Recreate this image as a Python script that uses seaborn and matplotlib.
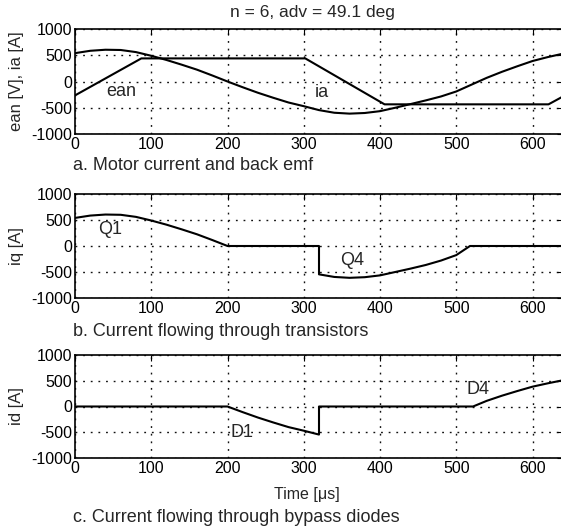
import matplotlib

matplotlib.use("Agg")
import matplotlib.pyplot as plt
import seaborn as sns

sns.set_theme(style="white")
plt.rcParams["font.family"] = ["Liberation Sans", "DejaVu Sans"]
plt.rcParams["axes.unicode_minus"] = False

# panel a: back emf (trapezoid) and phase current
ean_time = [0, 87, 302, 406, 621, 640]
ean_vals = [-265, 440, 440, -435, -435, -285]

ia_time = [0, 20, 40, 60, 80, 100, 120, 140, 160, 180, 200, 220, 240, 260, 280,
           300, 320, 340, 360, 380, 400, 420, 440, 460, 480, 500, 520, 540, 560,
           580, 600, 620, 640]
ia_vals = [540, 585, 605, 600, 560, 490, 410, 320, 225, 115, 0, -110, -215, -310,
           -400, -470, -545, -595, -612, -600, -565, -500, -430, -360, -285, -190,
           -60, 70, 185, 290, 390, 465, 530]

# panel b: transistor current
iq_time = [0, 20, 40, 60, 80, 100, 120, 140, 160, 180, 200, 320, 320, 340, 360,
           380, 400, 420, 440, 460, 480, 500, 518, 640]
iq_vals = [540, 585, 605, 600, 560, 490, 410, 320, 225, 115, 0, 0, -545, -595,
           -612, -600, -565, -500, -435, -365, -280, -175, 0, 0]

# panel c: diode current
id_time = [0, 200, 220, 240, 260, 280, 300, 320, 320, 522, 540, 560, 580, 600,
           620, 640]
id_vals = [0, 0, -110, -215, -310, -400, -470, -545, 0, 0, 110, 210, 300, 385,
           450, 510]

x_ticks = [0, 100, 200, 300, 400, 500, 600]
y_ticks = [-1000, -500, 0, 500, 1000]

W, H = 561, 531


def style_axis(ax, ylabel):
    ax.set_xlim(0, 640)
    ax.set_ylim(-1000, 1000)
    ax.set_xticks(x_ticks)
    ax.set_yticks(y_ticks)
    ax.grid(True, color="#111111", linestyle=(0, (1.3, 4.2)), linewidth=1.0)
    ax.tick_params(direction="in", length=4, width=0.8, top=True, right=True,
                   labelsize=11.5, colors="black", pad=2)
    for s in ax.spines.values():
        s.set_color("black")
        s.set_linewidth(1.2)
    ax.set_xlabel("")
    ax.set_ylabel(ylabel, fontsize=12, va="center")
    ax.yaxis.set_label_coords((17 - 75) / 488, 0.5)


def add_axes(top, bottom):
    return fig.add_axes([75 / W, 1 - bottom / H, 488 / W, (bottom - top) / H])


def draw(ax, t, v):
    sns.lineplot(x=t, y=v, ax=ax, color="black", linewidth=1.5,
                 estimator=None, sort=False)


fig = plt.figure(figsize=(W / 100, H / 100), dpi=100)

ax1 = add_axes(29, 134)
draw(ax1, ean_time, ean_vals)
draw(ax1, ia_time, ia_vals)
style_axis(ax1, "ean [V], ia [A]")
ax1.text(61, -200, "ean", fontsize=13, ha="center", va="center")
ax1.text(324, -213, "ia", fontsize=13, ha="center", va="center")

ax2 = add_axes(194, 298)
draw(ax2, iq_time, iq_vals)
style_axis(ax2, "iq [A]")
ax2.text(46, 313, "Q1", fontsize=13, ha="center", va="center")
ax2.text(363, -283, "Q4", fontsize=13, ha="center", va="center")

ax3 = add_axes(355, 458)
draw(ax3, id_time, id_vals)
style_axis(ax3, "id [A]")
ax3.text(219, -500, "D1", fontsize=13, ha="center", va="center")
ax3.text(528, 330, "D4", fontsize=13, ha="center", va="center")
ax3.set_xlabel("Time [\u03bcs]", fontsize=11.5, va="center")
ax3.xaxis.set_label_coords((307 - 75) / 488, (458 - 494) / 103)

fig.text(312 / W, 1 - 13 / H, "n = 6, adv = 49.1 deg", fontsize=12.5,
         ha="center", va="center")
fig.text(73 / W, 1 - 166 / H, "a. Motor current and back emf", fontsize=13,
         ha="left", va="center")
fig.text(73 / W, 1 - 332 / H, "b. Current flowing through transistors",
         fontsize=13, ha="left", va="center")
fig.text(73 / W, 1 - 518 / H, "c. Current flowing through bypass diodes",
         fontsize=13, ha="left", va="center")

fig.savefig("out.png", dpi=100, facecolor="white")
